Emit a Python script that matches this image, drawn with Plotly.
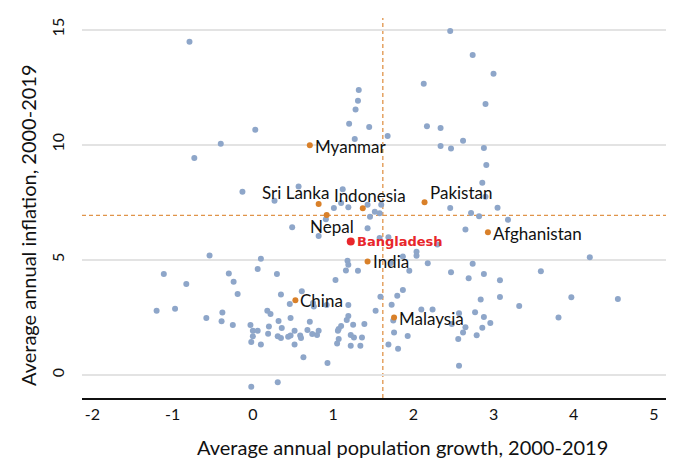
import plotly.graph_objects as go

# Average annual population growth (%) and inflation (%), 2000-2019, all countries
other_growth = [
    -0.79, 2.46, 2.74, 3.00, 2.13, 1.32, 1.31, 1.28, 2.90, 1.20,
    1.45, 2.17, 2.34, 0.03, 1.68, 1.27, 2.62, -0.40, 2.34, 2.47,
    2.88, -0.73, 2.91, 2.86, 0.57, 1.12, -0.13, 2.90, 0.27, 1.10,
    1.01, 1.19, 1.43, 1.60, 1.52, 1.58, 1.46, 2.46, 3.05, 2.72,
    2.82, 3.18, 0.91, 0.49, 1.43, 2.65, 0.82, 1.58, 1.69, 2.30,
    2.04, 2.04, 1.18, 1.19, 1.16, 1.31, 1.87, 1.72, 1.95, 2.18,
    2.47, 2.74, 2.88, 2.69, 3.08, 3.59, 4.20, 1.59, 1.80, 1.87,
    1.73, 1.53, 1.75, 1.76, 1.93, 1.69, 1.81, 1.39, 1.36, 1.34,
    2.10, 2.24, 2.57, 2.48, 2.65, 2.62, 2.56, 2.77, 2.88, 2.86,
    2.96, 2.79, 2.84, 3.08, 3.32, 3.81, 3.97, 4.55, 2.57, -0.54,
    0.10, 0.06, 0.30, -1.11, -0.83, -0.30, -0.24, -0.19, -1.20, -0.97,
    -0.58, -0.38, -0.39, -0.25, -0.03, 0.00, 0.06, 0.00, -0.02, 0.10,
    0.19, 0.20, 0.18, 0.22, 0.35, 0.46, 0.61, 0.75, 0.76, 0.92,
    1.19, 0.32, 0.36, 0.31, 0.35, 0.47, 0.44, 0.47, 0.52, 0.52,
    0.59, 0.60, 0.68, 0.71, 0.74, 0.80, 0.82, 0.63, 0.93, 1.03,
    1.19, 1.17, 1.10, 1.07, 1.06, 1.07, 1.05, 1.22, 1.26, 1.22,
    1.25, -0.02, 0.31,
]
other_inflation = [
    14.47, 14.94, 13.89, 13.08, 12.65, 12.37, 11.91, 11.53, 11.77, 10.91,
    10.77, 10.80, 10.72, 10.65, 10.38, 10.25, 10.17, 10.04, 9.94, 9.83,
    9.86, 9.42, 9.12, 8.35, 8.18, 8.06, 7.96, 7.74, 7.57, 7.47,
    7.25, 7.28, 7.39, 7.39, 7.09, 7.02, 6.87, 7.25, 7.26, 7.03,
    6.89, 6.74, 6.76, 6.41, 6.37, 6.32, 6.03, 5.95, 5.98, 5.66,
    5.35, 5.18, 4.96, 4.79, 4.54, 4.53, 5.14, 4.86, 4.52, 4.85,
    4.46, 4.83, 4.38, 4.20, 4.11, 4.50, 5.11, 3.40, 3.44, 3.69,
    3.05, 2.79, 2.36, 1.84, 1.69, 1.32, 1.14, 2.21, 1.63, 1.27,
    2.84, 2.84, 2.68, 2.21, 2.07, 1.84, 1.56, 2.72, 2.52, 2.05,
    2.26, 1.72, 3.28, 3.39, 3.00, 2.50, 3.37, 3.30, 0.40, 5.19,
    5.05, 4.60, 4.38, 4.38, 3.95, 4.41, 4.05, 3.52, 2.79, 2.88,
    2.47, 2.71, 2.33, 2.17, 2.17, 1.92, 1.92, 1.68, 1.43, 1.32,
    1.79, 2.10, 2.79, 2.65, 3.49, 3.08, 3.63, 3.13, 2.97, 3.04,
    3.04, 2.34, 2.04, 1.68, 1.61, 2.47, 1.66, 1.71, 1.92, 1.32,
    1.71, 1.61, 1.95, 2.31, 1.78, 1.74, 1.92, 0.77, 0.52, 4.12,
    2.56, 2.39, 2.13, 2.00, 1.92, 1.56, 1.37, 1.74, 1.63, 1.27,
    2.18, -0.51, -0.32,
]

# Highlighted neighbours / peers
peer_names = ["Myanmar", "Sri Lanka", "Indonesia", "Pakistan", "Nepal",
              "Afghanistan", "India", "China", "Malaysia"]
peer_growth = [0.71, 0.82, 1.37, 2.14, 0.92, 2.93, 1.43, 0.53, 1.76]
peer_inflation = [9.97, 7.42, 7.24, 7.50, 6.95, 6.20, 4.93, 3.24, 2.50]

focus_name = "Bangladesh"
focus_growth = 1.22
focus_inflation = 5.79

# Reference lines (averages)
mean_growth = 1.62
mean_inflation = 6.93

x_ticks = [-2, -1, 0, 1, 2, 3, 4, 5]
y_ticks = [0, 5, 10, 15]

x_title = "Average annual population growth, 2000-2019"
y_title = "Average annual inflation, 2000-2019"

# label placement: (xanchor, xshift, yshift) in pixels around each dot
label_offsets = {
    "Myanmar": ("left", 3, -1),
    "Sri Lanka": ("right", 12, 12),
    "Indonesia": ("center", 7, 13),
    "Pakistan": ("left", 3, 10),
    "Nepal": ("center", 5, -12),
    "Afghanistan": ("left", 3, -1),
    "India": ("left", 3, 0),
    "China": ("left", 3, 0),
    "Malaysia": ("left", 3, -1),
}

FONT = "Lato, 'Open Sans', sans-serif"
GREY_BLUE = "#8ea6c9"
ORANGE = "#d98029"
RED = "#e8262b"

fig = go.Figure()
fig.add_trace(go.Scatter(
    x=other_growth, y=other_inflation, mode="markers",
    marker=dict(size=6, color=GREY_BLUE), hoverinfo="skip", showlegend=False))
fig.add_trace(go.Scatter(
    x=peer_growth, y=peer_inflation, mode="markers", text=peer_names,
    marker=dict(size=6, color=ORANGE), showlegend=False))
fig.add_trace(go.Scatter(
    x=[focus_growth], y=[focus_inflation], mode="markers", text=[focus_name],
    marker=dict(size=8, color=RED), showlegend=False))

for name, gx, gy in zip(peer_names, peer_growth, peer_inflation):
    anchor, dx, dy = label_offsets[name]
    fig.add_annotation(x=gx, y=gy, text=name, showarrow=False,
                       xanchor=anchor, yanchor="middle", xshift=dx, yshift=dy,
                       font=dict(family=FONT, size=17, color="#111111"))
fig.add_annotation(x=focus_growth, y=focus_inflation, text="<b>%s</b>" % focus_name,
                   showarrow=False, xanchor="left", yanchor="middle",
                   xshift=4, yshift=0,
                   font=dict(family="'DejaVu Sans', sans-serif", size=13, color=RED))

# axis titles, placed as free text
fig.add_annotation(xref="paper", yref="paper", x=0.548, y=-0.13, text=x_title,
                   showarrow=False, xanchor="center", yanchor="middle",
                   font=dict(family=FONT, size=20, color="#111111"))
fig.add_annotation(xref="paper", yref="paper", x=-0.0925, y=0.455, text=y_title,
                   showarrow=False, textangle=-90, xanchor="center", yanchor="middle",
                   font=dict(family=FONT, size=20, color="#111111"))

dash_line = dict(color="#e0944a", width=1.3, dash="4px,3px")
fig.add_shape(type="line", xref="x", yref="paper", x0=mean_growth, x1=mean_growth,
              y0=0, y1=1, line=dash_line, layer="below")
fig.add_shape(type="line", xref="paper", yref="y", x0=0, x1=1,
              y0=mean_inflation, y1=mean_inflation, line=dash_line, layer="below")

fig.update_layout(
    width=674, height=460,
    margin=dict(l=82, r=8, t=18, b=62, autoexpand=False),
    paper_bgcolor="white", plot_bgcolor="white",
    font=dict(family=FONT, color="#111111"),
    xaxis=dict(
        range=[-2.13, 5.15], tickvals=x_ticks, ticktext=[str(v) for v in x_ticks],
        showgrid=False, zeroline=False, showline=True, linecolor="#111111",
        linewidth=2, ticks="", tickfont=dict(size=16), ticklabelstandoff=1,
        automargin=False,
    ),
    yaxis=dict(
        range=[-1, 15.5], tickvals=y_ticks, ticktext=[str(v) for v in y_ticks],
        showgrid=True, gridcolor="#e3e3e3", gridwidth=1.5, zeroline=False,
        showline=False, ticks="", tickangle=-90, tickfont=dict(size=16),
        ticklabelstandoff=14,
        automargin=False,
    ),
)

fig.write_html("out.html")
